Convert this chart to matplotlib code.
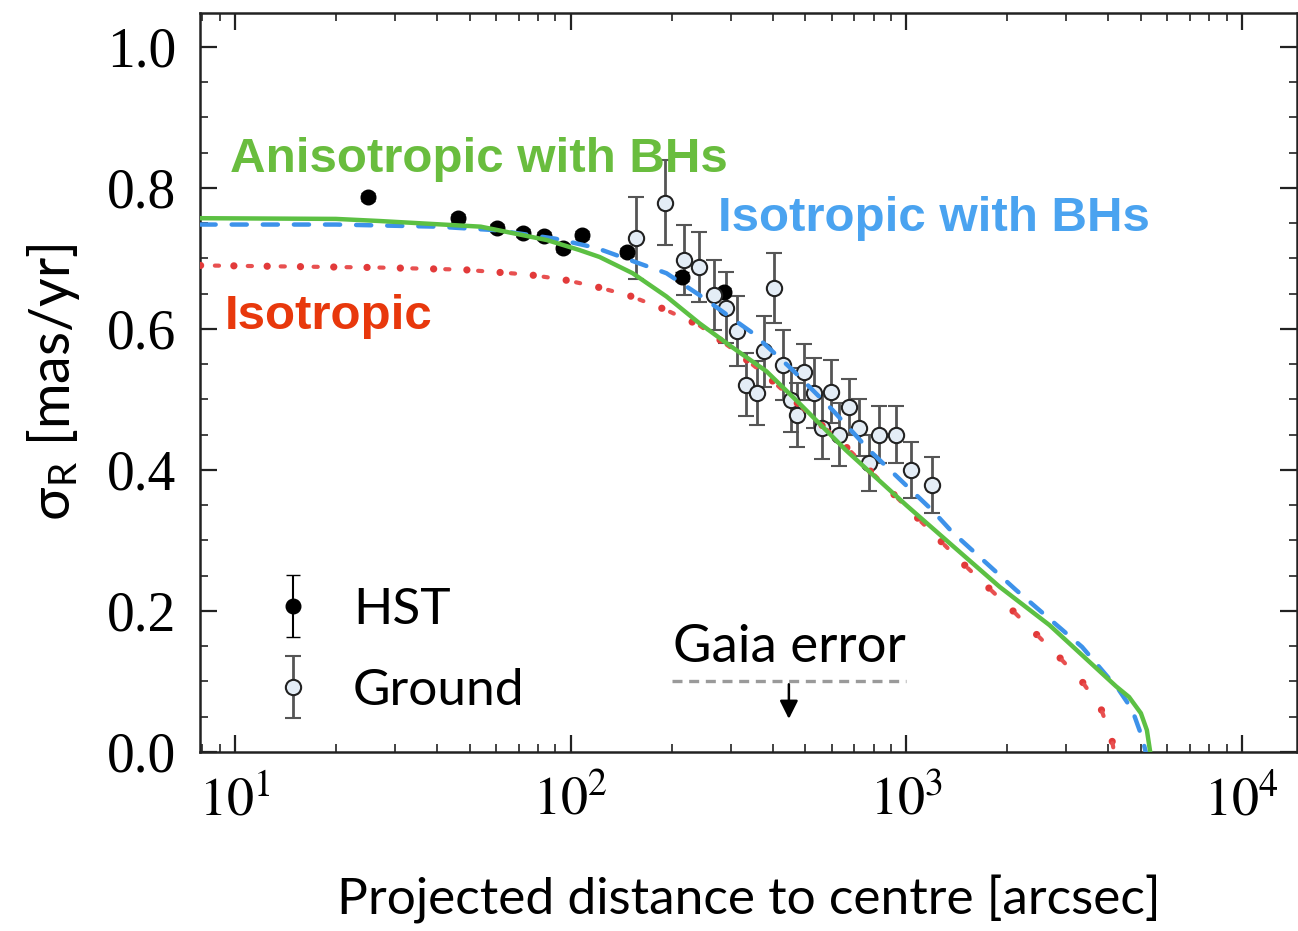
import numpy as np
import matplotlib
matplotlib.use('Agg')
import matplotlib.pyplot as plt
from matplotlib import ticker
from matplotlib.legend_handler import HandlerErrorbar

plt.rcParams['mathtext.fontset'] = 'stix'
SANS = ['Lato', 'DejaVu Sans']

# данные HST (заполненные точки)
hst_r = [24.9, 46.1, 60.3, 72.0, 83.2, 94.7, 108, 147, 215, 287]
hst_s = [0.787, 0.757, 0.743, 0.736, 0.732, 0.715, 0.733, 0.709, 0.674, 0.652]
hst_e = [0.006, 0.006, 0.006, 0.006, 0.006, 0.006, 0.006, 0.006, 0.006, 0.006]

# наземные данные (пустые точки)
gr_r = [157, 191, 218, 242, 268, 291, 314, 334, 358, 378, 405, 428, 455,
        474, 497, 532, 562, 598, 632, 677, 725, 776, 831, 934, 1035, 1195]
gr_s = [0.729, 0.779, 0.698, 0.688, 0.648, 0.630, 0.597, 0.521, 0.509, 0.568,
        0.658, 0.549, 0.499, 0.478, 0.539, 0.509, 0.460, 0.511, 0.450, 0.489,
        0.460, 0.410, 0.450, 0.450, 0.400, 0.379]
gr_e = [0.058, 0.06, 0.05, 0.05, 0.05, 0.05, 0.05, 0.045, 0.045, 0.05,
        0.05, 0.05, 0.045, 0.045, 0.04, 0.05, 0.045, 0.045, 0.045, 0.04,
        0.04, 0.04, 0.04, 0.04, 0.04, 0.04]

# модели
aniso_r = [7.9, 20, 27, 54, 85, 106, 122, 153, 193, 242, 303, 383, 479,
           661, 1000, 1370, 1900, 2670, 3510, 4220, 4610, 5000, 5210, 5330]
aniso_s = [0.757, 0.756, 0.753, 0.745, 0.726, 0.712, 0.702, 0.679, 0.646,
           0.608, 0.574, 0.540, 0.495, 0.428, 0.350, 0.293, 0.234, 0.180,
           0.128, 0.093, 0.078, 0.055, 0.031, 0.0]

isobh_r = [7.9, 20, 40, 60, 90, 119, 193, 242, 349, 458, 603, 776, 1194,
           1370, 2120, 3340, 4300, 4710, 5040, 5170]
isobh_s = [0.748, 0.748, 0.745, 0.740, 0.728, 0.715, 0.679, 0.648, 0.594,
           0.542, 0.485, 0.428, 0.343, 0.312, 0.230, 0.149, 0.088, 0.060,
           0.021, 0.0]

iso_r = [7.9, 27, 48, 75, 95, 119, 150, 190, 242, 303, 383, 480, 661,
         1279, 1470, 2070, 2850, 3340, 3800, 4100, 4160]
iso_s = [0.690, 0.687, 0.684, 0.677, 0.670, 0.660, 0.647, 0.628, 0.605,
         0.572, 0.534, 0.492, 0.433, 0.297, 0.268, 0.201, 0.135, 0.100,
         0.062, 0.017, 0.0]

gaia_r = [200, 1000]
gaia_s = [0.1, 0.1]
gaia_arrow_r = 447

fig = plt.figure(figsize=(12.98, 9.31), dpi=100)
ax = fig.add_axes([200 / 1298, 1 - 752 / 931, 1097 / 1298, 739 / 931])
ax.set_xscale('log')
ax.set_xlim(7.87, 14590)
ax.set_ylim(0.0, 1.048)

# кривые: изотропная — крупные точки + мелкие штрихи между ними
ax.plot(iso_r, iso_s, color='#e23a3a', lw=5.2,
        linestyle=(0, (0.01, 4.6)), dash_capstyle='round', zorder=3)
ax.plot(iso_r, iso_s, color='#e85050', lw=3.0,
        linestyle=(4.47, (1.0, 6.9)), dash_capstyle='round', zorder=3)
ax.plot(isobh_r, isobh_s, color='#3d92ea', lw=3.2,
        linestyle=(0, (3.4, 3.6)), dash_capstyle='round', zorder=3)
ax.plot(aniso_r, aniso_s, color='#5cc043', lw=3.2, zorder=3)

# точки
hst = ax.errorbar(hst_r, hst_s, yerr=hst_e, fmt='o', color='black',
                  ms=10.5, ecolor='black', elinewidth=1.5, capsize=5, zorder=2)
gr = ax.errorbar(gr_r, gr_s, yerr=gr_e, fmt='o', mfc='#e4edf6', mec='#222222',
                 mew=1.5, ms=11, ecolor='#555555', elinewidth=2, capsize=6,
                 capthick=2, zorder=2)

# ошибка Gaia
ax.plot(gaia_r, gaia_s, color='#9a9a9a', lw=2.4, linestyle=(0, (3, 2)))
ax.annotate('', xy=(gaia_arrow_r, 0.043), xytext=(gaia_arrow_r, 0.1),
            arrowprops=dict(arrowstyle='-|>,head_width=0.55,head_length=1.1',
                            color='black', lw=1.8))
ax.text(gaia_arrow_r, 0.148, 'Gaia error', ha='center', va='center',
        family=SANS, fontsize=38)

# подписи моделей
ax.text(9.66, 0.84, 'Anisotropic with BHs', color='#69bd3e', fontsize=35.5,
        fontweight='bold', family='Liberation Sans', va='center')
ax.text(274, 0.757, 'Isotropic with BHs', color='#4aa3f0', fontsize=35.5,
        fontweight='bold', family='Liberation Sans', va='center')
ax.text(9.35, 0.618, 'Isotropic', color='#e8380c', fontsize=35.5,
        fontweight='bold', family='Liberation Sans', va='center')

# легенда
leg = ax.legend([hst, gr], ['HST', 'Ground'], loc='upper left',
                bbox_to_anchor=(40 / 1097, 0.223), frameon=False,
                prop={'family': SANS, 'size': 37}, borderpad=0,
                borderaxespad=0, handlelength=2.05, handletextpad=0.15,
                labelspacing=0.68, numpoints=1,
                handler_map={type(hst): HandlerErrorbar(yerr_size=0.6)})

# оси
ax.set_yticks([0.0, 0.2, 0.4, 0.6, 0.8, 1.0])
ax.yaxis.set_minor_locator(ticker.MultipleLocator(0.05))
ax.yaxis.set_major_formatter(ticker.FormatStrFormatter('%.1f'))
ax.xaxis.set_major_locator(ticker.LogLocator(base=10, numticks=10))
ax.xaxis.set_minor_locator(ticker.LogLocator(base=10, subs=np.arange(2, 10), numticks=20))
ax.xaxis.set_minor_formatter(ticker.NullFormatter())
ax.xaxis.set_major_formatter(ticker.FuncFormatter(
    lambda v, p: r'$10^{%d}$' % round(np.log10(v))))

ax.tick_params(which='both', direction='in', top=True, right=True,
               color='#222222')
ax.tick_params(which='major', length=12, width=1.6)
ax.tick_params(which='minor', length=6, width=1.2)
ax.tick_params(axis='y', which='major', pad=17, labelsize=40)
ax.tick_params(axis='x', which='major', pad=16, labelsize=39)
for lab in ax.get_yticklabels():
    lab.set_fontfamily('Liberation Serif')
for s in ax.spines.values():
    s.set_linewidth(1.8)
    s.set_color('#222222')

ax.set_xlabel('Projected distance to centre [arcsec]', family=SANS,
              fontsize=37, labelpad=35)
ax.set_ylabel(r'σ$_\mathregular{R}$ [mas/yr]', family=SANS, fontsize=40,
              labelpad=18)

fig.savefig('out.png', dpi=100)
